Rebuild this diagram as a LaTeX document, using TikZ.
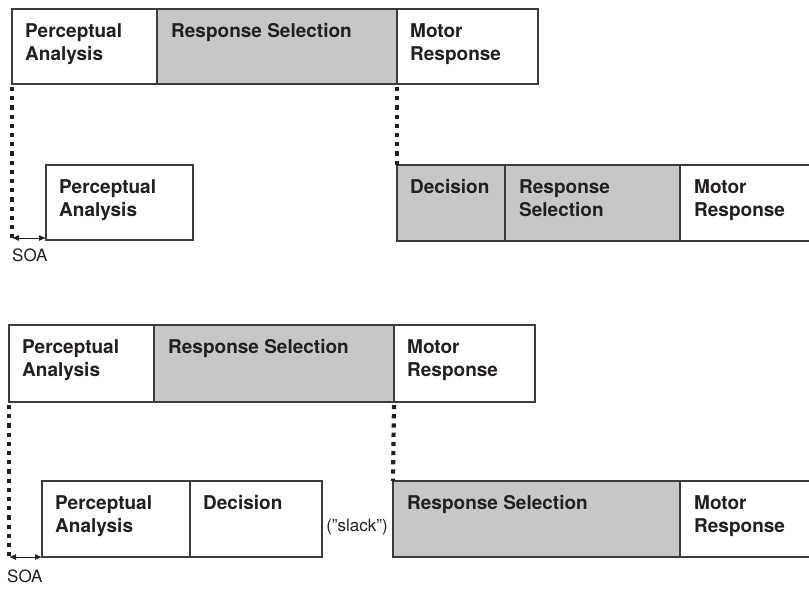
\documentclass[tikz,border=0pt]{standalone}
\usepackage{fontspec}
\setmainfont{TeX Gyre Heros}
\usetikzlibrary{arrows.meta}
\definecolor{boxgray}{HTML}{C6C7C9}
\definecolor{ink}{HTML}{231F20}
\definecolor{edge}{HTML}{3C3C3C}
\begin{document}
\begin{tikzpicture}[x=1pt,y=-1pt,
 box/.style={draw=edge, line width=1.3pt, anchor=north west, inner sep=0pt, outer sep=0pt},
 wbox/.style={box, fill=white},
 gbox/.style={box, fill=boxgray},
 lab/.style={anchor=north west, inner sep=0pt, align=left, font=\bfseries\fontsize{19}{23}\selectfont, text=ink},
 small/.style={inner sep=0pt, font=\fontsize{17}{20}\selectfont, text=ink},
 dots/.style={draw=ink, line width=4.2pt, dash pattern=on 4.2pt off 5pt},
 soa/.style={draw=ink, line width=1pt, {Latex[length=7pt,width=6pt]}-{Latex[length=7pt,width=6pt]}}
]
\useasboundingbox (0,0) rectangle (809,589);
\clip (0,0) rectangle (809,589);

% ---------- Upper panel ----------
\node[wbox, minimum width=145pt, minimum height=75pt] (a1) at (12,9) {};
\node[gbox, minimum width=240pt, minimum height=75pt] (a2) at (157,9) {};
\node[wbox, minimum width=141pt, minimum height=75pt] (a3) at (397,9) {};
\node[lab] (la1) at ([shift={(13,14)}]a1.north west) {Perceptual\\Analysis};
\node[lab] (la2) at ([shift={(14,14)}]a2.north west) {Response Selection};
\node[lab] (la3) at ([shift={(13,14)}]a3.north west) {Motor\\Response};

\node[wbox, minimum width=147pt, minimum height=75pt] (b1) at (46,165) {};
\node[lab] (lb1) at ([shift={(13,14)}]b1.north west) {Perceptual\\Analysis};

\node[gbox, minimum width=108pt, minimum height=76pt] (c1) at (397,165) {};
\node[gbox, minimum width=175pt, minimum height=76pt] (c2) at (505,165) {};
\node[wbox, minimum width=140pt, minimum height=76pt] (c3) at (680,165) {};
\node[lab] (lc1) at ([shift={(13,14)}]c1.north west) {Decision};
\node[lab] (lc2) at ([shift={(14,14)}]c2.north west) {Response\\Selection};
\node[lab] (lc3) at ([shift={(14,14)}]c3.north west) {Motor\\Response};

\coordinate (s1) at (12,238);
\draw[dots] ([yshift=-3pt]a1.south west) -- (s1);
\draw[dots] ([yshift=-3pt]a2.south east) -- (c1.north west);
\draw[soa] (s1) -- (s1 -| b1.west);
\node[small, anchor=base west] (soa1) at (12,261) {SOA};

% ---------- Lower panel ----------
\node[wbox, minimum width=145pt, minimum height=77pt] (d1) at (9,325) {};
\node[gbox, minimum width=240pt, minimum height=77pt] (d2) at (154,325) {};
\node[wbox, minimum width=141pt, minimum height=77pt] (d3) at (394,325) {};
\node[lab] (ld1) at ([shift={(13,14)}]d1.north west) {Perceptual\\Analysis};
\node[lab] (ld2) at ([shift={(14,14)}]d2.north west) {Response Selection};
\node[lab] (ld3) at ([shift={(13,14)}]d3.north west) {Motor\\Response};

\node[wbox, minimum width=148pt, minimum height=76pt] (e1) at (42,481) {};
\node[wbox, minimum width=132pt, minimum height=76pt] (e2) at (190,481) {};
\node[lab] (le1) at ([shift={(13,14)}]e1.north west) {Perceptual\\Analysis};
\node[lab] (le2) at ([shift={(13,14)}]e2.north west) {Decision};

\node[small] (slack) at (357,527) {(\symbol{34}slack\symbol{34})};

\node[gbox, minimum width=287pt, minimum height=76pt] (f1) at (393,481) {};
\node[wbox, minimum width=140pt, minimum height=76pt] (f2) at (680,481) {};
\node[lab] (lf1) at ([shift={(14,14)}]f1.north west) {Response Selection};
\node[lab] (lf2) at ([shift={(14,14)}]f2.north west) {Motor\\Response};

\coordinate (s2) at (9,557);
\draw[dots] ([yshift=-3pt]d1.south west) -- (s2);
\draw[dots] ([yshift=-3pt]d2.south east) -- (f1.north west);
\draw[soa] (s2) -- (s2 -| e1.west);
\node[small, anchor=base west] (soa2) at (7,582) {SOA};
\end{tikzpicture}
\end{document}
